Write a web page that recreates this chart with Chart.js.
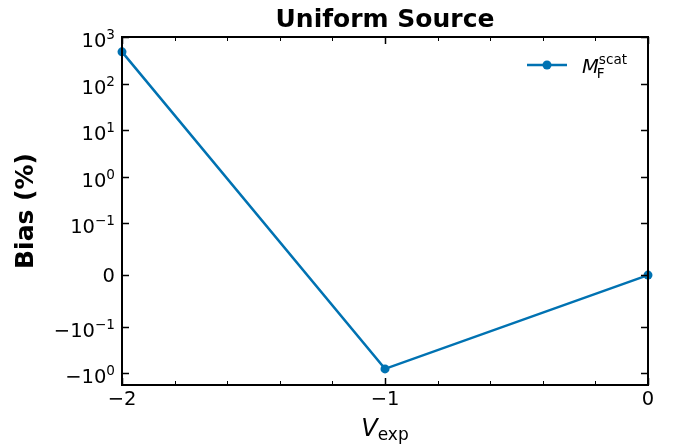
<!DOCTYPE html>
<html><head><meta charset="utf-8">
<script src="https://cdn.jsdelivr.net/npm/chart.js@4"></script>
<style>html,body{margin:0;padding:0;background:#fff}canvas{display:block}</style>
</head><body>
<canvas id="c" width="676" height="446"></canvas>
<script>
const xValues = [-2, -1, 0];
const biasValues = [480, -0.8, 0];
const yTickValues = [1000, 100, 10, 1, 0.1, 0, -0.1, -1];
// [base, superscript]
const yTickLabels = [['10', '3'], ['10', '2'], ['10', '1'], ['10', '0'], ['10', '−1'], ['0', ''], ['−10', '−1'], ['−10', '0']];
const xTickValues = [-2, -1, 0];
const xTickLabels = ['−2', '−1', '0'];
const xMinorTicks = [-1.8, -1.6, -1.4, -1.2, -0.8, -0.6, -0.4, -0.2];

const LT = 0.1, LS = 1 / (1 - 0.1);
function symlog(v) {
  const a = Math.abs(v), s = Math.sign(v);
  if (a <= LT) return v / LT * LS;
  return s * (LS + Math.log10(a / LT));
}

const FONT = "'DejaVu Sans', sans-serif";
const blue = '#0072B2';
const TICK = 19.5, SUP = 13.6;

const decor = {
  id: 'decor',
  afterDraw(chart) {
    const ctx = chart.ctx, ca = chart.chartArea;
    const xs = chart.scales.x, ys = chart.scales.y;
    ctx.save();
    ctx.strokeStyle = '#000';
    ctx.lineWidth = 1.5;
    ctx.beginPath();
    yTickValues.forEach(v => {
      const p = Math.round(ys.getPixelForValue(symlog(v))) + 0.5;
      ctx.moveTo(ca.left, p); ctx.lineTo(ca.left + 7, p);
      ctx.moveTo(ca.right, p); ctx.lineTo(ca.right - 7, p);
    });
    xTickValues.forEach(v => {
      const p = Math.round(xs.getPixelForValue(v)) + 0.5;
      ctx.moveTo(p, ca.bottom); ctx.lineTo(p, ca.bottom - 7);
      ctx.moveTo(p, ca.top); ctx.lineTo(p, ca.top + 7);
    });
    ctx.stroke();
    ctx.lineWidth = 1;
    ctx.beginPath();
    xMinorTicks.forEach(v => {
      const p = Math.round(xs.getPixelForValue(v)) + 0.5;
      ctx.moveTo(p, ca.bottom); ctx.lineTo(p, ca.bottom - 4);
      ctx.moveTo(p, ca.top); ctx.lineTo(p, ca.top + 4);
    });
    ctx.stroke();
    ctx.lineWidth = 2;
    ctx.strokeRect(ca.left, ca.top, ca.right - ca.left, ca.bottom - ca.top);

    ctx.fillStyle = '#000';
    ctx.textBaseline = 'alphabetic';
    // y tick labels
    ctx.textAlign = 'left';
    yTickValues.forEach((v, i) => {
      const p = ys.getPixelForValue(symlog(v));
      const [base, sup] = yTickLabels[i];
      ctx.font = TICK + 'px ' + FONT;
      const wb = ctx.measureText(base).width;
      ctx.font = SUP + 'px ' + FONT;
      const ws = sup ? ctx.measureText(sup).width : 0;
      const right = ca.left - 7;
      const x0 = right - wb - ws;
      if (sup) {
        ctx.font = TICK + 'px ' + FONT;
        ctx.fillText(base, x0, p + 10);
        ctx.font = SUP + 'px ' + FONT;
        ctx.fillText(sup, x0 + wb, p + 2);
      } else {
        ctx.font = TICK + 'px ' + FONT;
        ctx.fillText(base, x0, p + 7);
      }
    });
    // x tick labels
    ctx.textAlign = 'center';
    ctx.font = TICK + 'px ' + FONT;
    xTickValues.forEach((v, i) => {
      ctx.fillText(xTickLabels[i], xs.getPixelForValue(v), 405);
    });
    // title
    const cx = (ca.left + ca.right) / 2;
    ctx.font = 'bold 25px ' + FONT;
    ctx.fillText('Uniform Source', cx, 27);
    // y title
    ctx.save();
    ctx.translate(33, (ca.top + ca.bottom) / 2);
    ctx.rotate(-Math.PI / 2);
    ctx.fillText('Bias (%)', 0, 0);
    ctx.restore();
    // x title V_exp
    ctx.textAlign = 'left';
    ctx.font = 'italic 24px ' + FONT;
    const wV = ctx.measureText('V').width;
    ctx.font = '17px ' + FONT;
    const wE = ctx.measureText('exp').width;
    const x0 = cx - (wV + wE) / 2;
    ctx.font = 'italic 24px ' + FONT;
    ctx.fillText('V', x0, 436);
    ctx.font = '17px ' + FONT;
    ctx.fillText('exp', x0 + wV, 440);
    // legend
    ctx.strokeStyle = blue; ctx.lineWidth = 2.5;
    ctx.beginPath(); ctx.moveTo(527, 65); ctx.lineTo(567, 65); ctx.stroke();
    ctx.fillStyle = blue;
    ctx.beginPath(); ctx.arc(547, 65, 4.5, 0, Math.PI * 2); ctx.fill();
    ctx.fillStyle = '#000';
    ctx.font = 'italic 19.5px ' + FONT;
    ctx.fillText('M', 582, 73);
    const wM = ctx.measureText('M').width;
    ctx.font = '13.6px ' + FONT;
    ctx.fillText('F', 582 + wM - 2, 78);
    ctx.fillText('scat', 582 + wM, 64);
    ctx.restore();
  }
};

new Chart(document.getElementById('c'), {
  type: 'line',
  data: {
    datasets: [{
      label: 'M_F^scat',
      data: xValues.map((x, i) => ({ x: x, y: symlog(biasValues[i]) })),
      borderColor: blue,
      backgroundColor: blue,
      borderWidth: 2.5,
      pointRadius: 4.5,
      pointBorderWidth: 0,
      pointHoverRadius: 4.5,
      tension: 0,
      clip: false
    }]
  },
  options: {
    responsive: false,
    animation: false,
    events: [],
    layout: { padding: { left: 0, top: 37, right: 28, bottom: 0 } },
    plugins: { legend: { display: false }, title: { display: false }, tooltip: { enabled: false } },
    scales: {
      x: {
        type: 'linear', min: -2, max: 0,
        grid: { display: false, drawTicks: false },
        border: { display: false },
        afterBuildTicks: s => { s.ticks = xTickValues.map(v => ({ value: v })); },
        afterFit: s => { s.height = 61; },
        ticks: { display: false }
      },
      y: {
        type: 'linear', min: -2.36, max: symlog(1000),
        grid: { display: false, drawTicks: false },
        border: { display: false },
        afterBuildTicks: s => { s.ticks = yTickValues.map(v => ({ value: symlog(v) })); },
        afterFit: s => { s.width = 122; },
        ticks: { display: false }
      }
    }
  },
  plugins: [decor]
});
</script>
</body></html>
